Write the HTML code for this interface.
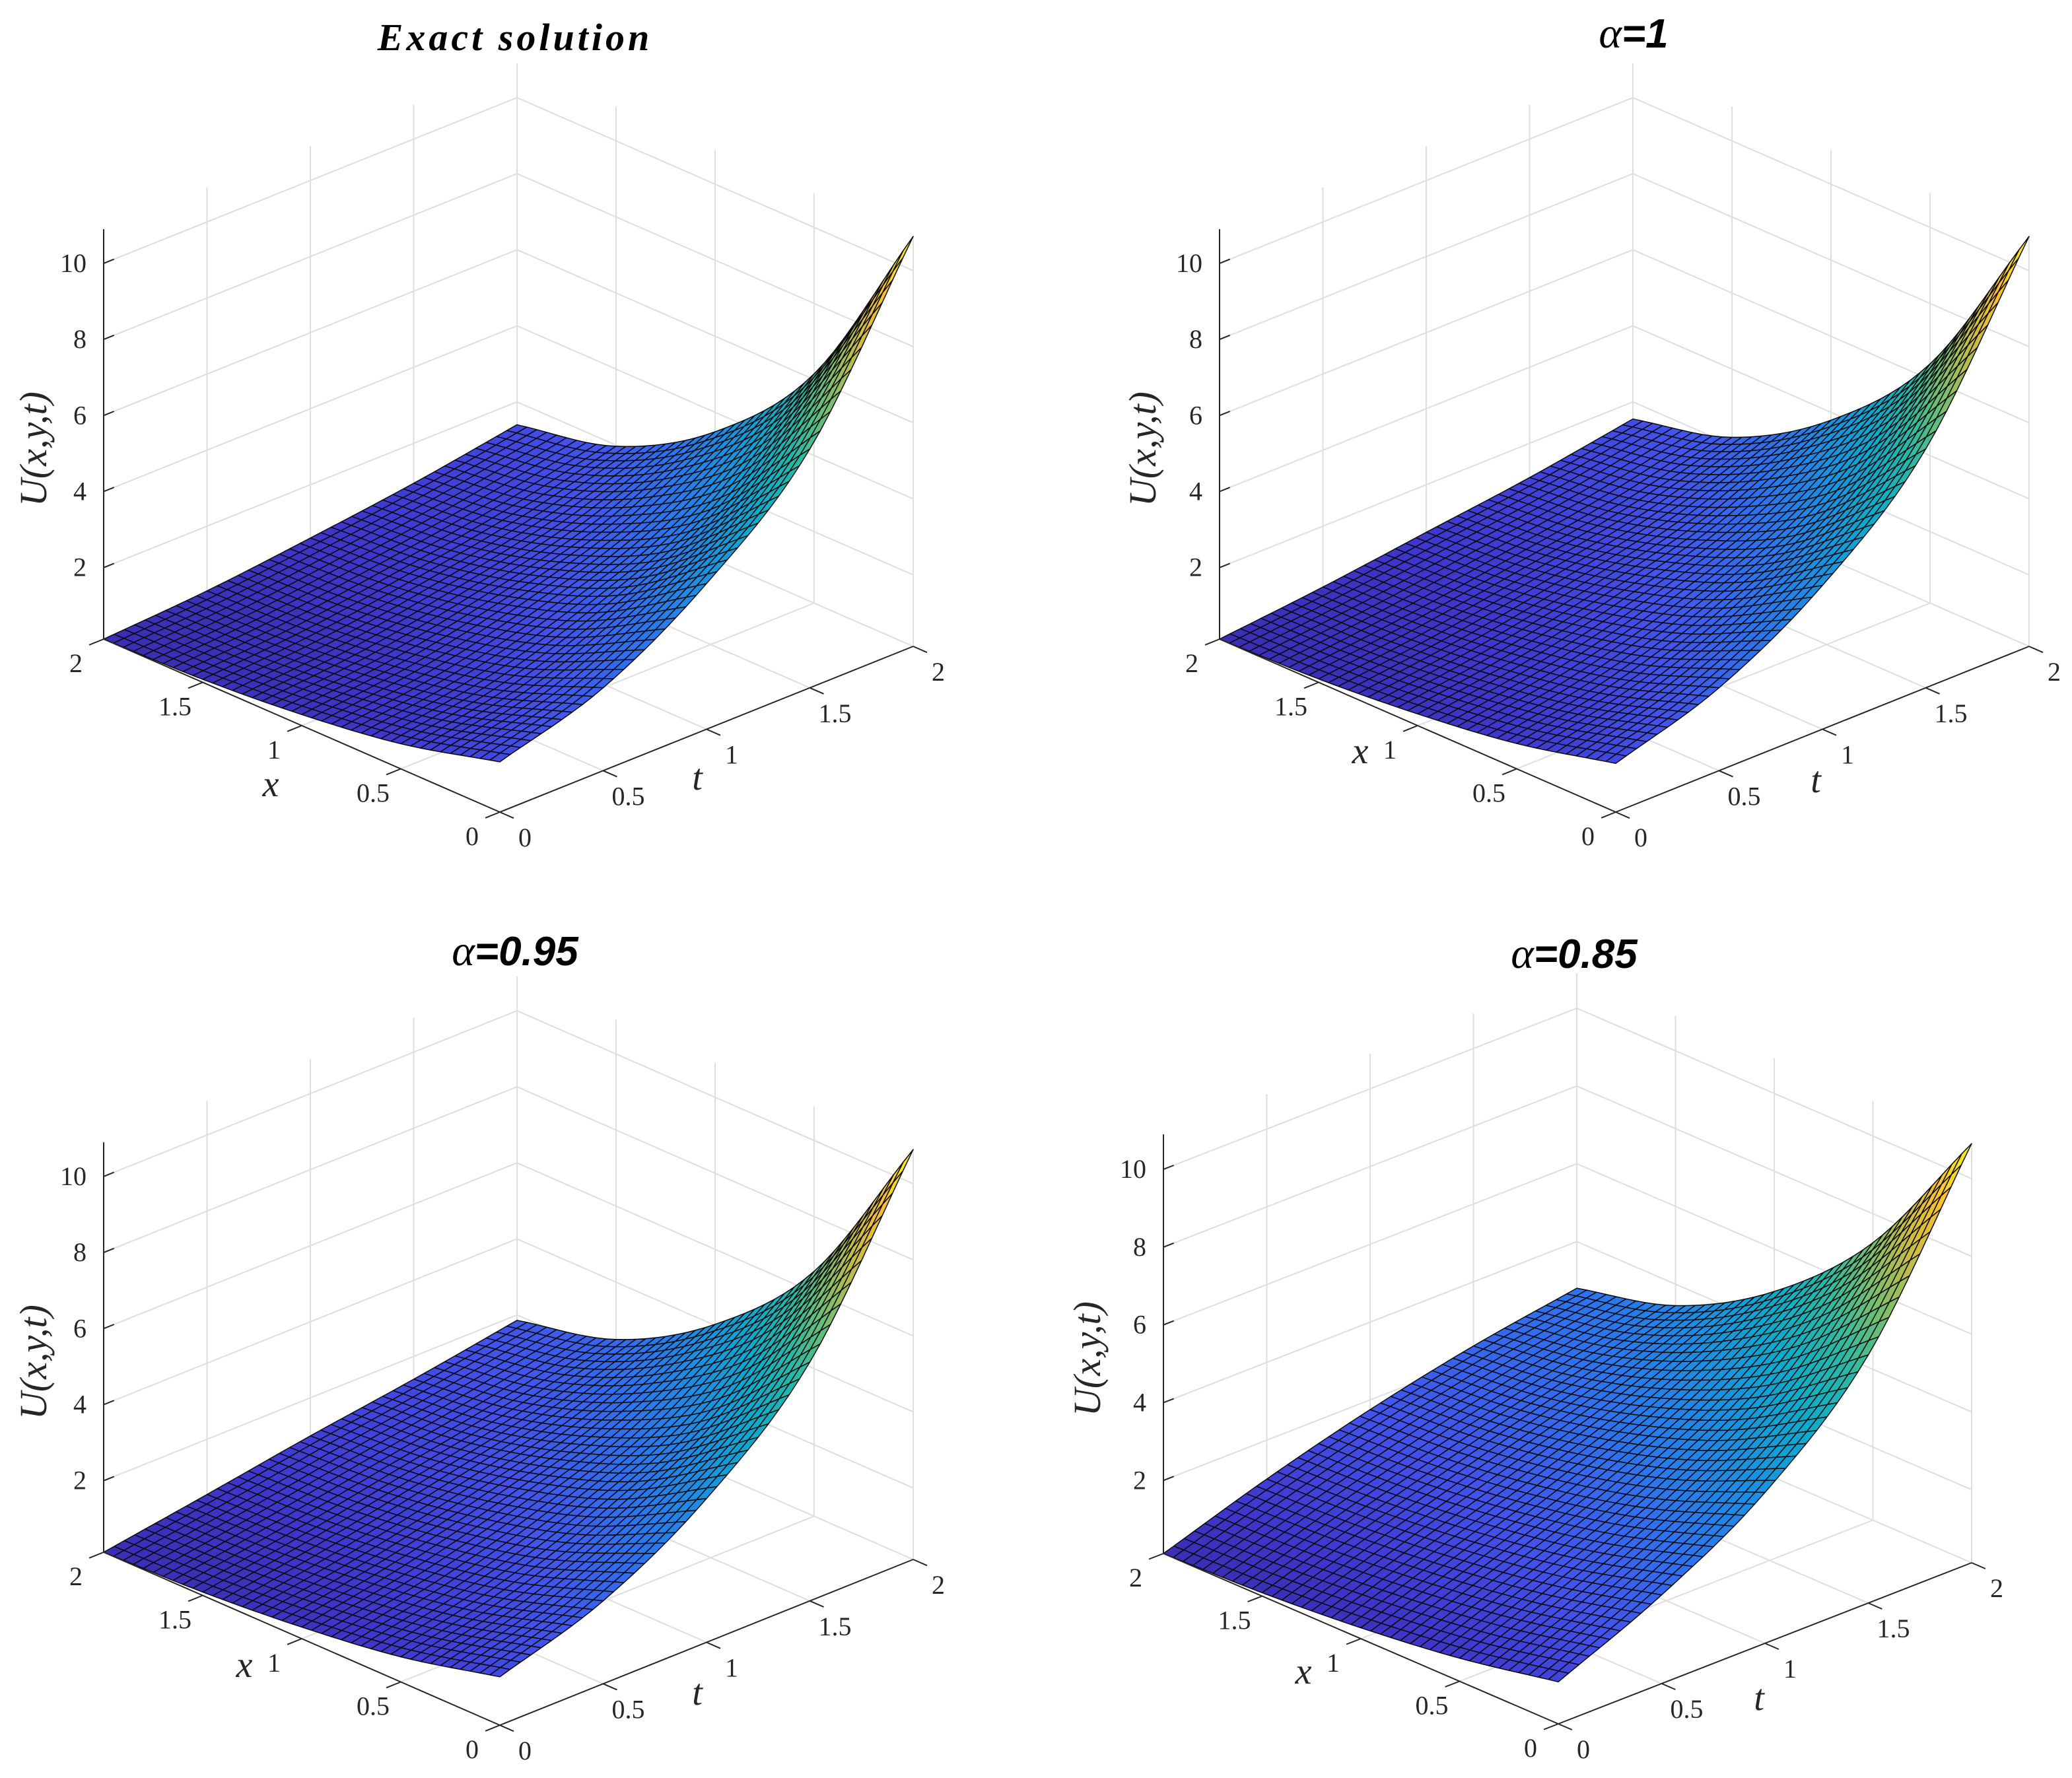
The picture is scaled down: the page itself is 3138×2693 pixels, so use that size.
<!DOCTYPE html>
<html><head><meta charset="utf-8"><style>
html,body{margin:0;padding:0;background:#fff;}
svg{display:block;}
</style></head><body>
<svg id="fig" xmlns="http://www.w3.org/2000/svg" width="3138" height="2693" viewBox="0 0 3138 2693">
<rect width="3138" height="2693" fill="#fff"/>
</svg>
<script>
// ---- data ----
const tSamples = [0, 0.5, 1, 1.5, 2];
const xSamples = [0, 0.5, 1, 1.5, 2];
const xTicks = [0, 0.5, 1, 1.5, 2];
const tTicks = [0, 0.5, 1, 1.5, 2];
const zTicks = [2, 4, 6, 8, 10];
const xTickLabels = ["0", "0.5", "1", "1.5", "2"];
const tTickLabels = ["0", "0.5", "1", "1.5", "2"];
const zTickLabels = ["2", "4", "6", "8", "10"];
const panelTitles = ["Exact solution", "1", "0.95", "0.85"];
// U along edge x=0 (vs t), along edge x=2 (vs t), and cross-section profile weights (vs x)
const exactEdgeX0 = [1.44, 2.3, 3.95, 6.4, 10.9];
const exactEdgeX2 = [0.12, 0.3, 0.6, 0.95, 1.4];
const exactProfile = [1, 0.5, 0.22, 0.06, 0];
const a1EdgeX0 = [1.4, 2.3, 3.9, 6.4, 10.9];
const a1EdgeX2 = [0.12, 0.4, 0.75, 1.1, 1.55];
const a1Profile = [1, 0.52, 0.24, 0.07, 0];
const a095EdgeX0 = [1.39, 2.3, 3.9, 6.4, 10.9];
const a095EdgeX2 = [0.12, 0.55, 1.0, 1.4, 1.86];
const a095Profile = [1, 0.52, 0.24, 0.07, 0];
const a085EdgeX0 = [1.2, 2.4, 4.0, 6.5, 10.9];
const a085EdgeX2 = [0.12, 1.0, 1.75, 2.35, 2.8];
const a085Profile = [1, 0.55, 0.26, 0.08, 0];

// ---- layout (positions, not data) ----
const NS = "http://www.w3.org/2000/svg";
const svg = document.getElementById('fig');
const panels = [
  {F:[757,1230], L:[157,968], R:[1383,979], zu:57.6, edge0:exactEdgeX0, edge2:exactEdgeX2, prof:exactProfile, title:[780,76], xl:[410,1206], tl:[1056,1196], ul:[70,680], name:'exact'},
  {F:[2447,1230], L:[1847,968], R:[3073,979], zu:57.6, edge0:a1EdgeX0, edge2:a1EdgeX2, prof:a1Profile, title:[2474,72], xl:[2060,1156], tl:[2750,1200], ul:[1750,680], name:'alpha-1'},
  {F:[757,2613], L:[157,2351], R:[1383,2362], zu:57.6, edge0:a095EdgeX0, edge2:a095EdgeX2, prof:a095Profile, title:[780,1462], xl:[370,2540], tl:[1056,2582], ul:[70,2063], name:'alpha-095'},
  {F:[2360,2611], L:[1762,2353], R:[2986,2367], zu:58.9, edge0:a085EdgeX0, edge2:a085EdgeX2, prof:a085Profile, title:[2384,1466], xl:[1974,2550], tl:[2664,2590], ul:[1666,2058], name:'alpha-085'}
];
const ZMIN = 0.12, ZMAX = 10.9;

function el(tag, attrs, parent){
  const e = document.createElementNS(NS, tag);
  for (const k in attrs) e.setAttribute(k, attrs[k]);
  (parent||svg).appendChild(e);
  return e;
}
function interp(xs, ys, v){
  const n = xs.length;
  let i = 0;
  while (i < n-2 && v > xs[i+1]) i++;
  const h = xs[i+1]-xs[i];
  const s = (v - xs[i]) / h;
  const p0 = ys[Math.max(i-1,0)], p1 = ys[i], p2 = ys[i+1], p3 = ys[Math.min(i+2,n-1)];
  const m1 = (i===0) ? (p2-p1) : (p2-p0)/2;
  const m2 = (i+1===n-1) ? (p2-p1) : (p3-p1)/2;
  const s2 = s*s, s3 = s2*s;
  return (2*s3-3*s2+1)*p1 + (s3-2*s2+s)*m1 + (-2*s3+3*s2)*p2 + (s3-s2)*m2;
}
const cmap = [
 [0.00,[58,46,180]],[0.06,[63,56,208]],[0.15,[66,82,236]],[0.25,[45,115,240]],
 [0.35,[25,145,228]],[0.45,[10,172,205]],[0.55,[40,186,165]],[0.65,[115,191,112]],
 [0.75,[190,189,70]],[0.87,[250,190,45]],[1.00,[249,245,20]]];
function color(v){
  v = Math.max(0, Math.min(1, v));
  for (let i=0;i<cmap.length-1;i++){
    const a=cmap[i], b=cmap[i+1];
    if (v<=b[0]){
      const s=(v-a[0])/(b[0]-a[0]);
      const c=a[1].map((q,k)=>Math.round(q+(b[1][k]-q)*s));
      return `rgb(${c[0]},${c[1]},${c[2]})`;
    }
  }
  return 'rgb(249,245,20)';
}

panels.forEach((P, pi) => {
  const ex = [(P.L[0]-P.F[0])/2, (P.L[1]-P.F[1])/2];
  const et = [(P.R[0]-P.F[0])/2, (P.R[1]-P.F[1])/2];
  const pr = (x,t,z) => [P.F[0]+x*ex[0]+t*et[0], P.F[1]+x*ex[1]+t*et[1]-(z-ZMIN)*P.zu];
  const g = el('g', {});
  
  

  const gg = el('g', {stroke:'#dedede', 'stroke-width':2, fill:'none'}, g);
  
  
  const line = (a,b,par,attrs) => el('line', Object.assign({x1:a[0].toFixed(1),y1:a[1].toFixed(1),x2:b[0].toFixed(1),y2:b[1].toFixed(1)}, attrs||{}), par);
  xTicks.forEach(v => { if (v>0 && v<2) line(pr(v,0,ZMIN), pr(v,2,ZMIN), gg); if (v<2) line(pr(v,2,ZMIN), pr(v,2,ZMAX), gg); });
  tTicks.forEach(v => { if (v>0 && v<2) line(pr(0,v,ZMIN), pr(2,v,ZMIN), gg); if (v>0) line(pr(2,v,ZMIN), pr(2,v,ZMAX), gg); });
  zTicks.forEach(v => { line(pr(2,0,v), pr(2,2,v), gg); line(pr(2,2,v), pr(0,2,v), gg); });
  line(pr(2,2,ZMIN), pr(0,2,ZMIN), gg); line(pr(2,0,ZMIN), pr(2,2,ZMIN), gg);

  const N = 40;
  const U = [];
  for (let i=0;i<=N;i++){ U.push([]); const x = 2*i/N; const w = interp(xSamples, P.prof, x);
    for (let j=0;j<=N;j++){ const t = 2*j/N;
      const a = interp(tSamples, P.edge0, t), b = interp(tSamples, P.edge2, t);
      U[i].push(b + (a-b)*w); } }
  let umin=Infinity, umax=-Infinity;
  U.forEach(r=>r.forEach(v=>{umin=Math.min(umin,v);umax=Math.max(umax,v);}));
  const sg = el('g', {stroke:'#0a0a0a', 'stroke-width':1.5, 'stroke-linejoin':'round'}, g);
  
  
  const cells = [];
  for (let i=0;i<N;i++) for (let j=0;j<N;j++) cells.push([i,j]);
  cells.sort((a,b)=>(b[0]+b[1])-(a[0]+a[1]));
  let html = '';
  cells.forEach(([i,j])=>{
    const pts = [[i,j],[i+1,j],[i+1,j+1],[i,j+1]].map(([a,b])=>pr(2*a/N, 2*b/N, U[a][b]));
    const avg = (U[i][j]+U[i+1][j]+U[i+1][j+1]+U[i][j+1])/4;
    html += `<polygon points="${pts.map(p=>p[0].toFixed(1)+','+p[1].toFixed(1)).join(' ')}" fill="${color((avg-umin)/(umax-umin))}"/>`;
  });
  sg.innerHTML = html;

  const ag = el('g', {stroke:'#262626', 'stroke-width':2, fill:'none'}, g);
  
  
  line(pr(0,0,ZMIN), pr(2,0,ZMIN), ag);
  line(pr(0,0,ZMIN), pr(0,2,ZMIN), ag);
  line(pr(2,0,ZMIN), pr(2,0,ZMAX), ag);
  const tg = el('g', {fill:'#262626', 'font-family':'"Liberation Serif", serif', 'font-size':40}, g);
  
  
  xTicks.forEach((v,k) => {
    line(pr(v,0,ZMIN), pr(v,-0.07,ZMIN), ag);
    const p = pr(v,0,ZMIN);
    const tx = el('text', {x:(p[0]-42).toFixed(1), y:(p[1]+50).toFixed(1), 'text-anchor':'middle'}, tg);
    tx.textContent = xTickLabels[k];
  });
  tTicks.forEach((v,k) => {
    line(pr(0,v,ZMIN), pr(-0.07,v,ZMIN), ag);
    const p = pr(0,v,ZMIN);
    const tx = el('text', {x:(p[0]+38).toFixed(1), y:(p[1]+52).toFixed(1), 'text-anchor':'middle'}, tg);
    tx.textContent = tTickLabels[k];
  });
  zTicks.forEach((v,k) => {
    line(pr(2,0,v), pr(2,0.05,v), ag);
    const p = pr(2,0,v);
    const tx = el('text', {x:(p[0]-26).toFixed(1), y:(p[1]+13).toFixed(1), 'text-anchor':'end'}, tg);
    tx.textContent = zTickLabels[k];
  });

  const xl = el('text', {x:P.xl[0], y:P.xl[1], 'font-family':'"Liberation Serif", serif', 'font-style':'italic', 'font-size':56, 'text-anchor':'middle', fill:'#262626'}, g);
  
  
  xl.textContent = 'x';
  const tl = el('text', {x:P.tl[0], y:P.tl[1], 'font-family':'"Liberation Serif", serif', 'font-style':'italic', 'font-size':56, 'text-anchor':'middle', fill:'#262626'}, g);
  
  
  tl.textContent = 't';
  const ul = el('text', {x:0, y:0, transform:`translate(${P.ul[0]},${P.ul[1]}) rotate(-90)`, 'font-family':'"Liberation Serif", serif', 'font-style':'italic', 'font-size':58, 'text-anchor':'middle', fill:'#262626'}, g);
  
  
  ul.textContent = 'U(x,y,t)';

  const tt = el('text', {x:P.title[0], y:P.title[1], 'text-anchor':'middle', fill:'#000'}, g);
  
  
  if (pi === 0) {
    tt.setAttribute('font-family', '"Liberation Serif", serif');
    tt.setAttribute('font-style', 'italic');
    tt.setAttribute('font-weight', 'bold');
    tt.setAttribute('font-size', 58);
    tt.setAttribute('letter-spacing', 5);
    tt.textContent = panelTitles[0];
  } else {
    tt.innerHTML = `<tspan font-family="Liberation Serif, serif" font-style="italic" font-size="66">α</tspan><tspan font-family="Liberation Sans, sans-serif" font-style="italic" font-weight="bold" font-size="62">=${panelTitles[pi]}</tspan>`;
  }
});
</script>
</body></html>
